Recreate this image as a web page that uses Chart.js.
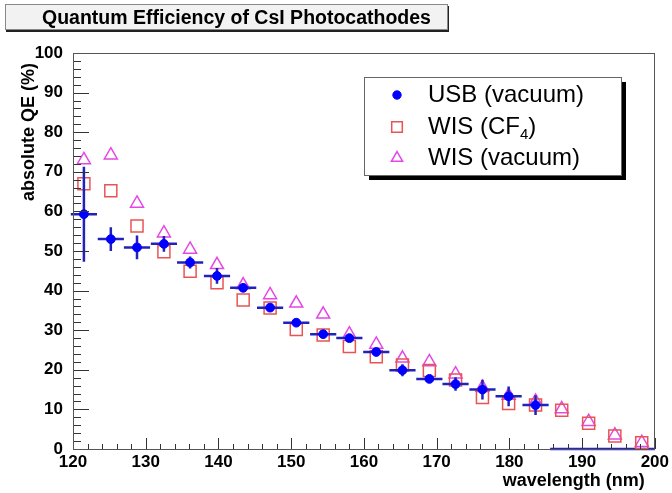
<!DOCTYPE html>
<html>
<head>
<meta charset="utf-8">
<script src="https://cdn.jsdelivr.net/npm/chart.js@4"></script>
<style>
html,body{margin:0;padding:0;background:#fff;}
#wrap{position:relative;width:672px;height:493px;overflow:hidden;}
#chart{position:absolute;left:0;top:0;}
#title{position:absolute;left:5px;top:4px;width:443px;height:26px;box-sizing:border-box;
  background:#f2f2f2;border:1px solid #888;box-shadow:1px 2px 0 #222;
  font:bold 19.5px "Liberation Sans",Arial,Helvetica,sans-serif;line-height:24px;padding-left:36px;color:#000;white-space:nowrap;}
</style>
</head>
<body>
<div id="wrap">
<canvas id="chart" width="672" height="493"></canvas>
<div id="title">Quantum Efficiency of CsI Photocathodes</div>
</div>
<script>
// ---- data ----
const wavelength = [121.5,125.2,128.8,132.5,136.1,139.8,143.4,147.1,150.7,154.4,158.0,161.7,165.3,169.0,172.6,176.3,179.9,183.6,187.2,190.9,194.5,198.2];
const usbQE      = [59.3,53.0,50.9,51.8,47.1,43.7,40.7,35.7,31.9,29.0,28.0,24.5,19.9,17.7,16.4,15.0,13.3,11.1];
const usbErrY    = [12.0,3.0,3.0,2.0,1.5,2.0,1.0,1.0,0.8,0.8,0.8,1.0,1.5,1.0,1.7,2.5,2.5,2.5];
const usbErrX    = [1.8,1.8,1.8,1.8,1.8,1.8,1.8,1.8,1.8,1.8,1.8,1.8,1.8,1.8,1.8,1.8,1.8,1.8];
const wisCF4QE   = [67.0,65.2,56.3,49.8,44.9,42.0,37.6,35.6,30.2,28.8,25.9,23.3,21.2,19.8,17.4,13.0,11.5,11.1,9.8,6.5,3.3,1.6];
const wisVacQE   = [73.0,74.2,62.0,54.5,50.4,46.5,41.4,38.9,36.8,34.0,29.0,26.4,22.9,22.0,18.9,15.5,13.5,12.0,10.1,6.9,3.5,1.6];
const usbZeroX   = [185.6,200];
const usbZeroY   = [0,0];
const seriesLabels = ['USB (vacuum)','WIS (CF\u2084)','WIS (vacuum)'];
const xRange = [120,200];
const yRange = [0,100];
const minorStep = 2;
const majorStep = 10;

const FONT = '"Liberation Sans", Arial, Helvetica, sans-serif';
Chart.defaults.font.family = FONT;
Chart.defaults.color = '#000';

const pts = (xs, ys) => ys.map((v,i) => ({x: xs[i], y: v}));

const errorBars = {
  id: 'errorBars',
  beforeDatasetDraw(chart, args) {
    if (args.index !== 0) return;
    const {ctx, scales:{x, y}} = chart;
    ctx.save();
    ctx.strokeStyle = '#2222b8';
    ctx.lineWidth = 2.5;
    usbQE.forEach((v,i) => {
      const px = x.getPixelForValue(wavelength[i]);
      const py = y.getPixelForValue(v);
      ctx.beginPath();
      ctx.moveTo(x.getPixelForValue(wavelength[i]-usbErrX[i]), py);
      ctx.lineTo(x.getPixelForValue(wavelength[i]+usbErrX[i]), py);
      ctx.moveTo(px, y.getPixelForValue(v-usbErrY[i]));
      ctx.lineTo(px, y.getPixelForValue(v+usbErrY[i]));
      ctx.stroke();
    });
    ctx.restore();
  }
};

const frameTicks = {
  id: 'frameTicks',
  afterDatasetsDraw(chart) {
    const {ctx, chartArea:a, scales:{x, y}} = chart;
    ctx.save();
    ctx.strokeStyle = '#333';
    ctx.lineWidth = 1;
    ctx.beginPath();
    x.ticks.forEach(t => {
      const px = Math.round(x.getPixelForValue(t.value)) + 0.5;
      const len = (t.value % majorStep === 0) ? 11 : 5;
      ctx.moveTo(px, a.bottom); ctx.lineTo(px, a.bottom - len);
    });
    y.ticks.forEach(t => {
      const py = Math.round(y.getPixelForValue(t.value)) + 0.5;
      const len = (t.value % majorStep === 0) ? 16 : 8;
      ctx.moveTo(a.left, py); ctx.lineTo(a.left + len, py);
    });
    ctx.stroke();
    ctx.strokeStyle = '#555';
    ctx.strokeRect(Math.round(a.left)+0.5, Math.round(a.top)+0.5, Math.round(a.right-a.left)-1, Math.round(a.bottom-a.top));
    ctx.restore();
  }
};

const legendBox = {
  id: 'legendBox',
  afterDraw(chart) {
    const {ctx} = chart;
    const L = 364, T = 77, W = 257, H = 98;
    const rows = [95, 127, 158];
    const mx = 397, tx = 428;
    ctx.save();
    ctx.fillStyle = '#000';
    ctx.fillRect(L+5, T+5, W, H);
    ctx.fillStyle = '#fff';
    ctx.fillRect(L, T, W, H);
    ctx.strokeStyle = '#666';
    ctx.lineWidth = 1;
    ctx.strokeRect(L+0.5, T+0.5, W, H);
    chart.data.datasets.slice(0,3).forEach((ds, i) => {
      const yy = rows[i];
      ctx.fillStyle = ds.pointBackgroundColor;
      ctx.strokeStyle = ds.borderColor;
      ctx.lineWidth = ds.borderWidth;
      Chart.helpers.drawPoint(ctx, {pointStyle: ds.pointStyle, radius: ds.legendRadius, borderWidth: ds.borderWidth, rotation: 0}, mx, yy);
      ctx.fillStyle = '#000';
      ctx.textBaseline = 'middle';
      ctx.textAlign = 'left';
      const parts = ds.label.split('\u2084');
      let cx = tx;
      parts.forEach((p, k) => {
        ctx.font = '24px ' + FONT;
        ctx.fillText(p, cx, yy);
        cx += ctx.measureText(p).width;
        if (k < parts.length - 1) {
          ctx.font = '15px ' + FONT;
          ctx.fillText('4', cx, yy + 8);
          cx += ctx.measureText('4').width;
        }
      });
    });
    ctx.restore();
  }
};

new Chart(document.getElementById('chart'), {
  type: 'scatter',
  data: {
    datasets: [
      { label: seriesLabels[0], data: pts(wavelength, usbQE), pointStyle: 'circle', pointRadius: 4.4, legendRadius: 4.2,
        pointBackgroundColor: '#0000ff', borderColor: '#0000ff', backgroundColor: '#0000ff', borderWidth: 1 },
      { label: seriesLabels[1], data: pts(wavelength, wisCF4QE), pointStyle: 'rect', pointRadius: 8.5, legendRadius: 7.5,
        pointBackgroundColor: 'rgba(0,0,0,0)', borderColor: '#e85454', backgroundColor: 'rgba(0,0,0,0)', borderWidth: 1.5 },
      { label: seriesLabels[2], data: pts(wavelength, wisVacQE), pointStyle: 'triangle', pointRadius: 7.5, legendRadius: 6.5,
        pointBackgroundColor: 'rgba(0,0,0,0)', borderColor: '#e448e4', backgroundColor: 'rgba(0,0,0,0)', borderWidth: 1.5 },
      { label: 'USB zero', type: 'line', data: pts(usbZeroX, usbZeroY), pointRadius: 0, borderColor: '#2222d8', borderWidth: 2.5, clip: false, showLine: true }
    ]
  },
  options: {
    responsive: false,
    animation: false,
    events: [],
    layout: { padding: { top: 53, right: 15, left: 0, bottom: 0 } },
    plugins: { legend: { display: false }, tooltip: { enabled: false }, title: { display: false } },
    scales: {
      x: {
        type: 'linear', min: xRange[0], max: xRange[1],
        afterFit(s) { s.height = 44; },
        grid: { display: false, drawTicks: false },
        border: { display: false },
        ticks: { stepSize: minorStep, autoSkip: false, maxTicksLimit: 100, maxRotation: 0, padding: 3,
          font: { size: 17, weight: 'bold' },
          callback: v => (v % majorStep === 0 ? String(v) : '') },
        title: { display: true, text: 'wavelength (nm)\u00a0\u00a0', align: 'end', font: { size: 18, weight: 'bold' }, padding: { top: 0, bottom: 1 } }
      },
      y: {
        type: 'linear', min: yRange[0], max: yRange[1],
        afterFit(s) { s.width = 73; },
        grid: { display: false, drawTicks: false },
        border: { display: false },
        ticks: { stepSize: minorStep, autoSkip: false, maxTicksLimit: 100, padding: 10,
          font: { size: 17, weight: 'bold' },
          callback: v => (v % majorStep === 0 ? String(v) : '') },
        title: { display: true, text: 'absolute QE (%)\u00a0\u00a0', align: 'end', font: { size: 18, weight: 'bold' }, padding: { top: 18, bottom: 0 } }
      }
    }
  },
  plugins: [errorBars, frameTicks, legendBox]
});
</script>
</body>
</html>
